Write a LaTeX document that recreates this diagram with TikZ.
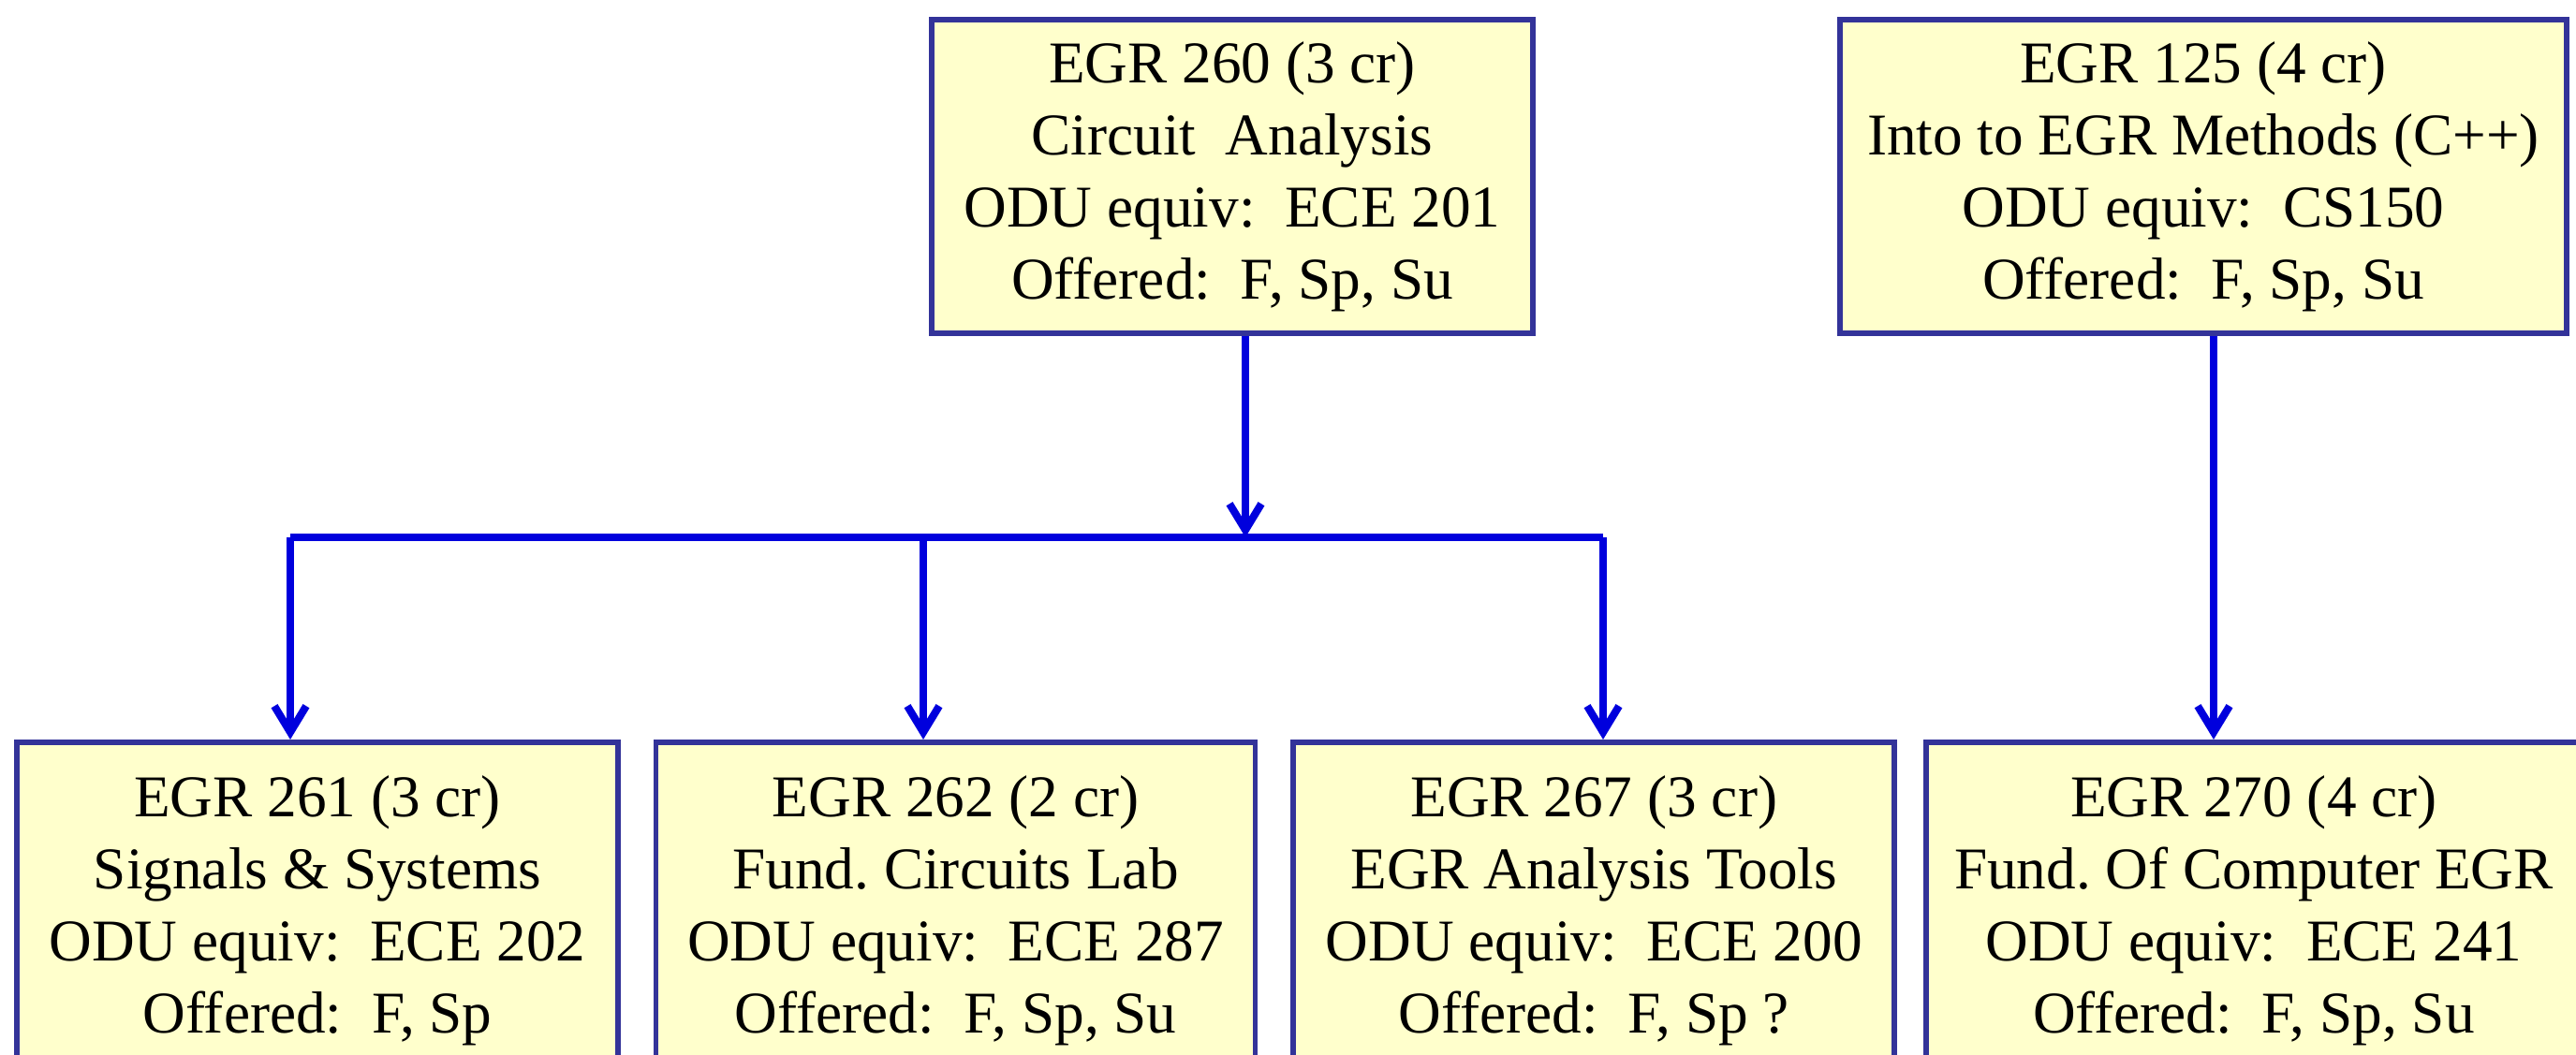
\documentclass[tikz,border=0pt]{standalone}
\usepackage{fontspec}
\setmainfont{Liberation Serif}
\usepackage{tikz}
\usetikzlibrary{positioning,arrows.meta}
\definecolor{boxfill}{HTML}{FFFFCC}
\definecolor{boxline}{HTML}{333399}
\definecolor{linkblue}{HTML}{0000DD}
\frenchspacing

\begin{document}
\begin{tikzpicture}[
			course/.style={draw=boxline, fill=boxfill, line width=1.6pt, minimum height=3.35cm,
				align=center, inner sep=0pt, font=\fontsize{18}{21.9}\selectfont},
			low/.style={course, minimum height=3.6cm, anchor=north},
			link/.style={draw=linkblue, line width=2.3pt, -{Straight Barb[length=2.8mm,width=3.4mm]}},
			bus/.style={draw=linkblue, line width=2.3pt}
		]
		\useasboundingbox (0,0) rectangle (27.51,-11.27);
		\node[course, minimum width=6.42cm] (b260) at (13.16,-1.885) {EGR 260 (3 cr)\\Circuit~ Analysis\\ODU equiv:~ ECE 201\\Offered:~ F, Sp, Su};
		\node[course, minimum width=7.76cm] (b125) at (23.53,-1.885) {EGR 125 (4 cr)\\Into to EGR Methods (C++)\\ODU equiv:~ CS150\\Offered:~ F, Sp, Su};
		\node[low, minimum width=6.42cm] (b261) at (3.39,-7.9) {EGR 261 (3 cr)\\Signals \& Systems\\ODU equiv:~ ECE 202\\Offered:~ F, Sp};
		\node[low, minimum width=6.40cm, right=0.35cm of b261] (b262) {EGR 262 (2 cr)\\Fund. Circuits Lab\\ODU equiv:~ ECE 287\\Offered:~ F, Sp, Su};
		\node[low, minimum width=6.42cm, right=0.35cm of b262] (b267) {EGR 267 (3 cr)\\EGR Analysis Tools\\ODU equiv:~ ECE 200\\Offered:~ F, Sp ?};
		\node[low, minimum width=7.0cm, right=0.28cm of b267] (b270) {EGR 270 (4 cr)\\Fund. Of Computer EGR\\ODU equiv:~ ECE 241\\Offered:~ F, Sp, Su};
		\coordinate (busL) at (3.1,-5.74);
		\coordinate (busM) at (9.86,-5.74);
		\coordinate (busR) at (17.12,-5.74);
		\coordinate (drop) at (13.3,-5.74);
		\draw[bus] (busL) -- (busR);
		\draw[link] (drop |- b260.south) -- (drop);
		\draw[link] (busL) -- (busL |- b261.north);
		\draw[link] (busM) -- (busM |- b262.north);
		\draw[link] (busR) -- (busR |- b267.north);
		\draw[link] ([xshift=1.1mm]b125.south) -- ([xshift=1.1mm]b125.south |- b270.north);
	\end{tikzpicture}
\end{document}
